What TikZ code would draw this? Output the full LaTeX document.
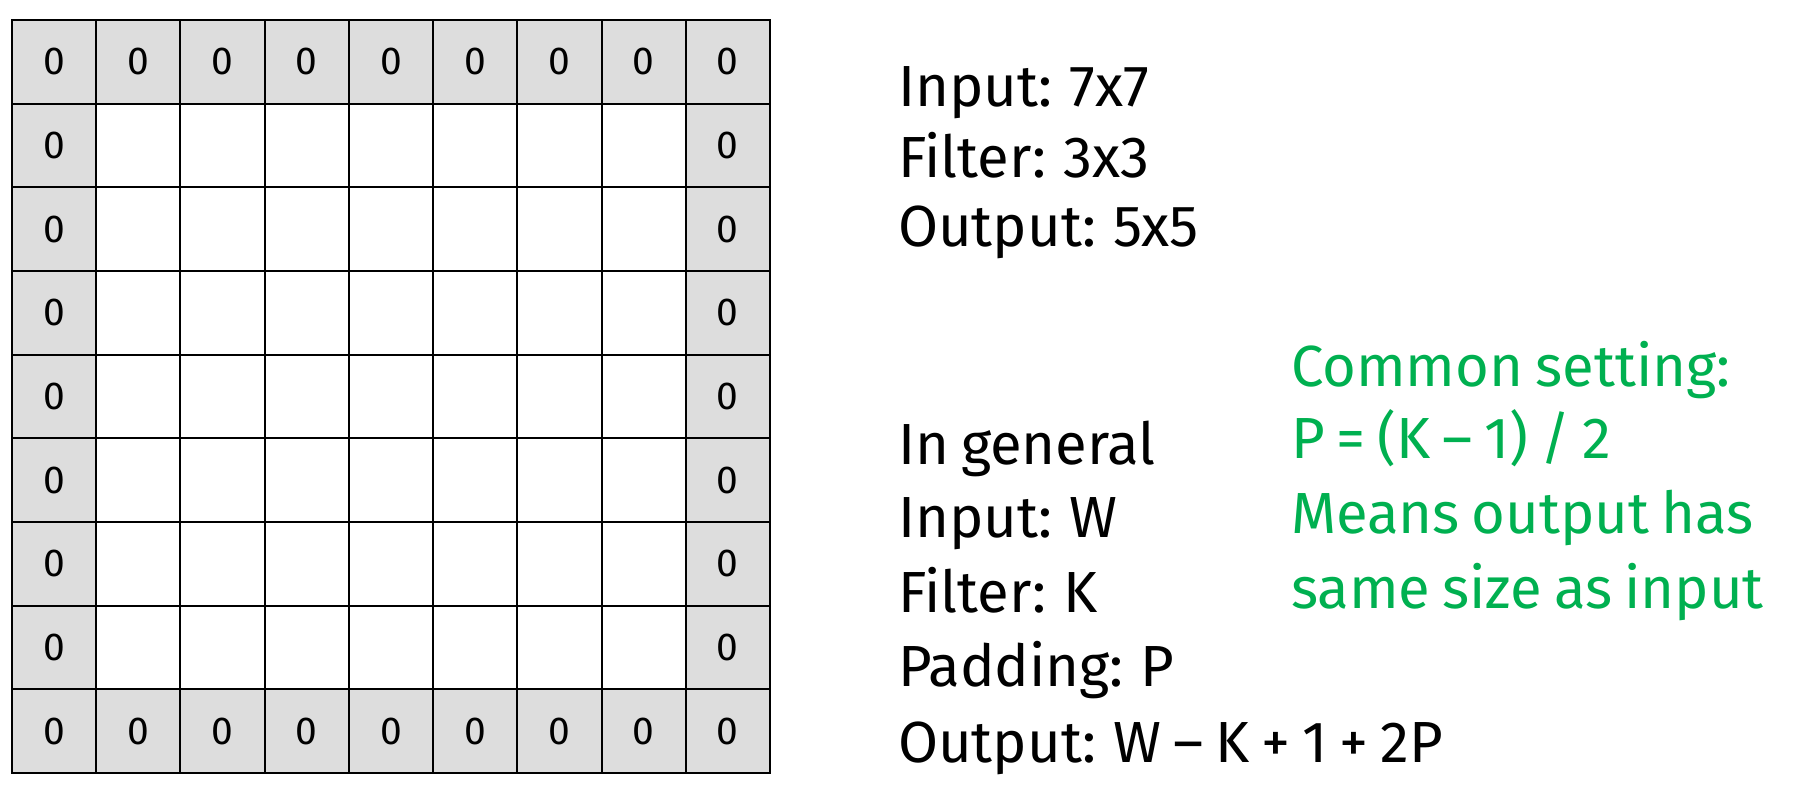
\documentclass[tikz,border=0pt]{standalone}
\usepackage{fontspec}
\setmainfont[WordSpace=0.78]{Fira Sans}
\definecolor{padgray}{HTML}{DDDDDD}
\definecolor{notegreen}{HTML}{00B050}
\begin{document}
\begin{tikzpicture}[x=0.5pt,y=-0.5pt,
  cell/.style={draw=black, line width=1pt, minimum width=42.11pt, minimum height=41.83pt,
    inner sep=0pt, outer sep=0pt, font=\fontsize{19.5}{20}\selectfont},
  padcell/.style={cell, fill=padgray},
  txt/.style={anchor=base west, inner sep=0pt, outer sep=0pt, font=\fontsize{29}{30}\selectfont},
  note/.style={txt, text=notegreen}]
\useasboundingbox (0,0) rectangle (1809,785);
% 9x9 input grid: zero padding around a blank 7x7 interior
\foreach \r in {0,...,8} {
  \foreach \c in {0,...,8} {
    \pgfmathtruncatemacro\isedge{(\r==0)||(\r==8)||(\c==0)||(\c==8)}
    \ifnum\isedge=1
      \node[padcell] (c-\r-\c) at ({12+84.22*(\c+0.5)},{20+83.67*(\r+0.5)}) {0};
    \else
      \node[cell] (c-\r-\c) at ({12+84.22*(\c+0.5)},{20+83.67*(\r+0.5)}) {};
    \fi
  }
}
% sizes for this example
\node[txt] (in1)  at (898,107) {Input: 7x7};
\node[txt] (fl1)  at (898,178) {Filter: 3x3};
\node[txt] (out1) at (898,247) {Output: 5x5};
% general formula
\node[txt] (gen)  at (898,465) {In general};
\node[txt] (in2)  at (898,538) {Input: W};
\node[txt] (fl2)  at (898,612) {Filter: K};
\node[txt] (pad)  at (898,686) {Padding: P};
\node[txt] (out2) at (898,762) {Output: W – K + 1 + 2P};
% usual choice of padding
\node[note] (n1) at (1291,387) {Common setting:};
\node[note] (n2) at (1291,459) {P = (K – 1) / 2};
\node[note] (n3) at (1291,534) {Means output has};
\node[note] (n4) at (1291,608) {same size as input};
\end{tikzpicture}
\end{document}
